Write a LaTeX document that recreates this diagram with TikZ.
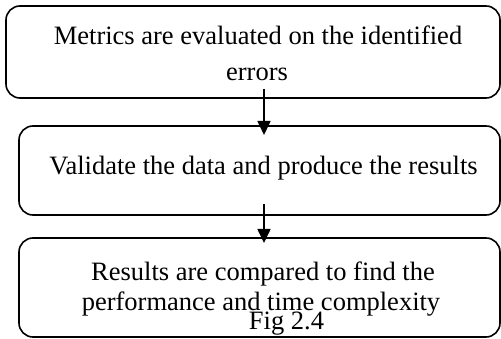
\documentclass[tikz,border=0pt]{standalone}
\usepackage{fontspec}
\setmainfont{Liberation Serif}
\usetikzlibrary{arrows.meta}
\begin{document}
\begin{tikzpicture}[x=1pt,y=-1pt,
  stepbox/.style={draw,line width=1.6pt,rounded corners=14pt,inner sep=0pt},
  label/.style={anchor=base,inner sep=0pt,font=\fontsize{26.5}{30}\selectfont},
  flow/.style={line width=1.6pt,-{Triangle[length=14pt,width=13pt]}}]
\useasboundingbox (0,0) rectangle (501,339);
% process boxes
\node[stepbox,minimum width=494pt,minimum height=92pt] (b1) at (253,52) {};
\node[stepbox,minimum width=481pt,minimum height=89pt] (b2) at (259.5,170.5) {};
\node[stepbox,minimum width=481pt,minimum height=99pt] (b3) at (259.5,287.5) {};
% box texts
\node[label] (t1a) at (258,45) {Metrics are evaluated on the identified};
\node[label] (t1b) at (257,81) {errors};
\node[label] (t2) at (263.5,175) {Validate the data and produce the results};
\node[label] (t3a) at (263,280) {Results are compared to find the};
\node[label] (t3b) at (261,310) {performance and time complexity};
\node[label] (cap) at (286.5,330) {Fig 2.4};
% connectors, starting just inside the upper box and ending past the lower box's top edge
\coordinate (s1) at (264,89);
\coordinate (e1) at (264,135);
\coordinate (s2) at (264,204);
\coordinate (e2) at (264,243);
\draw[flow] (s1) -- (e1);
\draw[flow] (s2) -- (e2);
\end{tikzpicture}
\end{document}
